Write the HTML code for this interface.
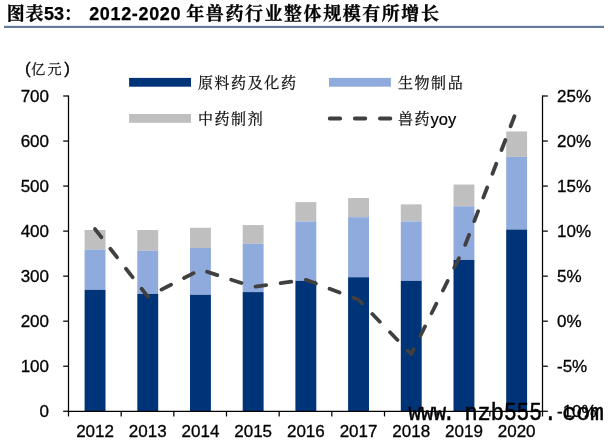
<!DOCTYPE html>
<html lang="zh"><head><meta charset="utf-8"><title>图表53</title>
<style>html,body{margin:0;padding:0;background:#fff}body{width:613px;height:448px;overflow:hidden;position:relative}svg{display:block;position:absolute;left:0;top:0}
.a{font-family:"Liberation Sans","Noto Sans CJK SC",sans-serif;font-size:17px;fill:#000;stroke:#000;stroke-width:0.3px}
.k{font-family:"Liberation Sans","Noto Serif CJK SC",serif;font-size:15px;letter-spacing:1.6px;fill:#111;stroke:#111;stroke-width:0.25px}
.t{font-family:"Liberation Sans","Noto Serif CJK SC",serif;font-size:18px;font-weight:bold;fill:#000}
.w{font-family:"Liberation Mono","DejaVu Sans Mono",monospace;fill:#000;stroke:#000;stroke-width:0.5px}
</style></head><body>
<svg width="613" height="448" viewBox="0 0 613 448">
<rect width="613" height="448" fill="#fff"/>
<text class="t" y="20.3"><tspan x="6.8" letter-spacing="0.6" stroke="#000" stroke-width="0.3">图表</tspan><tspan x="44.0" stroke="#000" stroke-width="0.25">53</tspan><tspan x="63.5">：</tspan><tspan x="89.2" letter-spacing="0.65" stroke="#000" stroke-width="0.25">2012-2020</tspan><tspan x="186.3" letter-spacing="1.55" stroke="#000" stroke-width="0.3">年兽药行业整体规模有所增长</tspan></text>
<rect x="4" y="25.7" width="600" height="0.6" fill="#9ab3d3"/><rect x="4" y="26.2" width="600" height="1.65" fill="#4a6288"/>
<rect x="84.60" y="230.00" width="20.9" height="19.57" fill="#bfbfbf"/>
<rect x="84.60" y="249.57" width="20.9" height="40.28" fill="#8faadc"/>
<rect x="84.60" y="289.85" width="20.9" height="121.40" fill="#003478"/>
<rect x="137.30" y="230.00" width="20.9" height="20.70" fill="#bfbfbf"/>
<rect x="137.30" y="250.70" width="20.9" height="43.20" fill="#8faadc"/>
<rect x="137.30" y="293.90" width="20.9" height="117.35" fill="#003478"/>
<rect x="190.00" y="227.75" width="20.9" height="20.25" fill="#bfbfbf"/>
<rect x="190.00" y="248.00" width="20.9" height="46.80" fill="#8faadc"/>
<rect x="190.00" y="294.80" width="20.9" height="116.45" fill="#003478"/>
<rect x="242.70" y="225.05" width="20.9" height="18.67" fill="#bfbfbf"/>
<rect x="242.70" y="243.72" width="20.9" height="48.38" fill="#8faadc"/>
<rect x="242.70" y="292.10" width="20.9" height="119.15" fill="#003478"/>
<rect x="295.40" y="202.10" width="20.9" height="19.35" fill="#bfbfbf"/>
<rect x="295.40" y="221.45" width="20.9" height="59.40" fill="#8faadc"/>
<rect x="295.40" y="280.85" width="20.9" height="130.40" fill="#003478"/>
<rect x="348.10" y="198.05" width="20.9" height="19.12" fill="#bfbfbf"/>
<rect x="348.10" y="217.17" width="20.9" height="60.08" fill="#8faadc"/>
<rect x="348.10" y="277.25" width="20.9" height="134.00" fill="#003478"/>
<rect x="400.80" y="204.35" width="20.9" height="17.10" fill="#bfbfbf"/>
<rect x="400.80" y="221.45" width="20.9" height="59.40" fill="#8faadc"/>
<rect x="400.80" y="280.85" width="20.9" height="130.40" fill="#003478"/>
<rect x="453.50" y="184.55" width="20.9" height="21.78" fill="#bfbfbf"/>
<rect x="453.50" y="206.33" width="20.9" height="53.59" fill="#8faadc"/>
<rect x="453.50" y="259.92" width="20.9" height="151.33" fill="#003478"/>
<rect x="506.20" y="131.45" width="20.9" height="25.42" fill="#bfbfbf"/>
<rect x="506.20" y="156.87" width="20.9" height="72.68" fill="#8faadc"/>
<rect x="506.20" y="229.55" width="20.9" height="181.70" fill="#003478"/>
<g stroke="#000" stroke-width="1.25" fill="none">
<line x1="68.5" y1="95.45" x2="68.5" y2="411.25"/>
<line x1="542.5" y1="95.45" x2="542.5" y2="411.25"/>
<line x1="67.95" y1="411.25" x2="543.05" y2="411.25"/>
<line x1="63.2" y1="96.0" x2="68.5" y2="96.0"/>
<line x1="542.5" y1="96.0" x2="547.8" y2="96.0"/>
<line x1="63.2" y1="141.036" x2="68.5" y2="141.036"/>
<line x1="542.5" y1="141.036" x2="547.8" y2="141.036"/>
<line x1="63.2" y1="186.072" x2="68.5" y2="186.072"/>
<line x1="542.5" y1="186.072" x2="547.8" y2="186.072"/>
<line x1="63.2" y1="231.108" x2="68.5" y2="231.108"/>
<line x1="542.5" y1="231.108" x2="547.8" y2="231.108"/>
<line x1="63.2" y1="276.144" x2="68.5" y2="276.144"/>
<line x1="542.5" y1="276.144" x2="547.8" y2="276.144"/>
<line x1="63.2" y1="321.18" x2="68.5" y2="321.18"/>
<line x1="542.5" y1="321.18" x2="547.8" y2="321.18"/>
<line x1="63.2" y1="366.216" x2="68.5" y2="366.216"/>
<line x1="542.5" y1="366.216" x2="547.8" y2="366.216"/>
<line x1="63.2" y1="411.252" x2="68.5" y2="411.252"/>
<line x1="542.5" y1="411.252" x2="547.8" y2="411.252"/>
<line x1="68.50" y1="411.25" x2="68.50" y2="416.45"/>
<line x1="121.17" y1="411.25" x2="121.17" y2="416.45"/>
<line x1="173.83" y1="411.25" x2="173.83" y2="416.45"/>
<line x1="226.50" y1="411.25" x2="226.50" y2="416.45"/>
<line x1="279.17" y1="411.25" x2="279.17" y2="416.45"/>
<line x1="331.83" y1="411.25" x2="331.83" y2="416.45"/>
<line x1="384.50" y1="411.25" x2="384.50" y2="416.45"/>
<line x1="437.17" y1="411.25" x2="437.17" y2="416.45"/>
<line x1="489.83" y1="411.25" x2="489.83" y2="416.45"/>
<line x1="542.50" y1="411.25" x2="542.50" y2="416.45"/>
</g>
<text class="a" x="49" y="101.7" text-anchor="end">700</text>
<text class="a" x="49" y="146.7" text-anchor="end">600</text>
<text class="a" x="49" y="191.8" text-anchor="end">500</text>
<text class="a" x="49" y="236.8" text-anchor="end">400</text>
<text class="a" x="49" y="281.8" text-anchor="end">300</text>
<text class="a" x="49" y="326.9" text-anchor="end">200</text>
<text class="a" x="49" y="371.9" text-anchor="end">100</text>
<text class="a" x="49" y="417.0" text-anchor="end">0</text>
<text class="a" x="557" y="101.7">25%</text>
<text class="a" x="557" y="146.7">20%</text>
<text class="a" x="557" y="191.8">15%</text>
<text class="a" x="557" y="236.8">10%</text>
<text class="a" x="557" y="281.8">5%</text>
<text class="a" x="557" y="326.9">0%</text>
<text class="a" x="557" y="371.9">-5%</text>
<text class="a" x="557" y="417.0">-10%</text>
<text class="a" x="95.05" y="437.0" text-anchor="middle">2012</text>
<text class="a" x="147.75" y="437.0" text-anchor="middle">2013</text>
<text class="a" x="200.45" y="437.0" text-anchor="middle">2014</text>
<text class="a" x="253.15" y="437.0" text-anchor="middle">2015</text>
<text class="a" x="305.85" y="437.0" text-anchor="middle">2016</text>
<text class="a" x="358.55" y="437.0" text-anchor="middle">2017</text>
<text class="a" x="411.25" y="437.0" text-anchor="middle">2018</text>
<text class="a" x="463.95" y="437.0" text-anchor="middle">2019</text>
<text class="a" x="516.65" y="437.0" text-anchor="middle">2020</text>
<text class="a" x="25.1" y="74.1">(</text><text class="k" x="31.3" y="73.6" style="font-size:14px;letter-spacing:2.2px">亿元</text><text class="a" x="64.2" y="74.1">)</text>
<polyline points="95.05,229.10 147.75,296.65 200.45,269.64 253.15,286.84 305.85,279.78 358.55,299.79 411.25,354.17 463.95,248.20 516.65,110.50" fill="none" stroke="#404040" stroke-width="3.8" stroke-linecap="round" stroke-linejoin="round" stroke-dasharray="10.7 14.7" stroke-dashoffset="0.5"/>
<rect x="129.1" y="77.9" width="61.9" height="8.8" fill="#003478"/>
<rect x="129.1" y="114.0" width="61.9" height="8.8" fill="#bfbfbf"/>
<rect x="329.0" y="77.9" width="61.9" height="8.8" fill="#8faadc"/>
<line x1="329.7" y1="118.5" x2="390.6" y2="118.5" stroke="#404040" stroke-width="3.8" stroke-linecap="round" stroke-dasharray="10.5 14.6"/>
<text class="k" x="197.9" y="87.7">原料药及化药</text>
<text class="k" x="197.9" y="123.7">中药制剂</text>
<text class="k" x="397.9" y="87.7">生物制品</text>
<text class="k" x="397.9" y="123.7">兽药</text><text class="a" x="430.6" y="124.6" style="font-size:16.5px;stroke-width:0.2px">yoy</text>
<text class="w" y="419.6" xml:space="preserve"><tspan x="408.4" font-size="23" textLength="37.7" lengthAdjust="spacingAndGlyphs">www</tspan><tspan x="442.6" font-size="23" textLength="25.4" lengthAdjust="spacingAndGlyphs">. </tspan><tspan x="464.4" font-size="23" textLength="39.7" lengthAdjust="spacingAndGlyphs">nzb</tspan><tspan x="503.9" font-size="26" textLength="37.9" lengthAdjust="spacingAndGlyphs">555</tspan><tspan x="543.9" font-size="23" textLength="25.4" lengthAdjust="spacingAndGlyphs">. </tspan><tspan x="562.3" font-size="23.5" textLength="41.7" lengthAdjust="spacingAndGlyphs">com</tspan></text>
</svg>
</body></html>
